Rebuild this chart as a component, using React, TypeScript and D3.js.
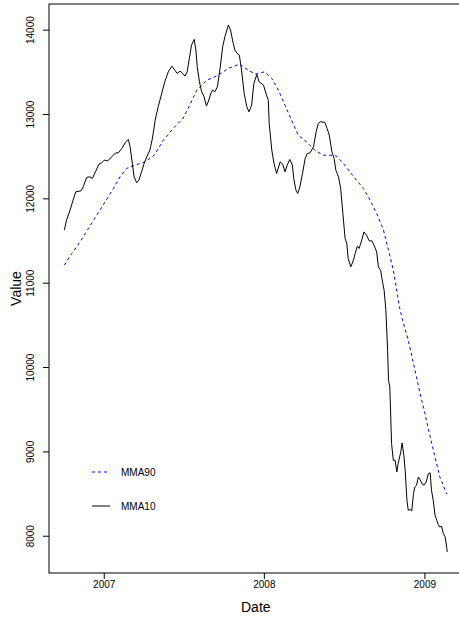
import React from "react";
import * as d3 from "d3";

// MMA10 (black solid) – date, value
const mma10Dates = [
  "2006-10-02","2006-10-07","2006-10-15","2006-10-22","2006-10-28","2006-11-09","2006-11-14","2006-11-22","2006-11-29","2006-12-05",
  "2006-12-12","2006-12-20","2006-12-26","2007-01-01","2007-01-09","2007-01-18","2007-01-27","2007-02-02","2007-02-10","2007-02-19",
  "2007-02-25","2007-03-01","2007-03-06","2007-03-10","2007-03-16","2007-03-21","2007-03-27","2007-04-02","2007-04-08","2007-04-15",
  "2007-04-20","2007-04-25","2007-04-27","2007-05-04","2007-05-12","2007-05-19","2007-05-27","2007-06-04","2007-06-11","2007-06-16",
  "2007-06-23","2007-06-29","2007-07-04","2007-07-09","2007-07-14","2007-07-19","2007-07-25","2007-07-29","2007-08-01","2007-08-06",
  "2007-08-11","2007-08-16","2007-08-22","2007-08-26","2007-09-01","2007-09-05","2007-09-10","2007-09-16","2007-09-22","2007-09-28",
  "2007-10-03","2007-10-11","2007-10-16","2007-10-22","2007-10-26","2007-10-31","2007-11-05","2007-11-10","2007-11-16","2007-11-22",
  "2007-11-27","2007-12-03","2007-12-08","2007-12-15","2007-12-20","2007-12-30","2008-01-06","2008-01-10","2008-01-12","2008-01-18",
  "2008-01-23","2008-01-29","2008-02-06","2008-02-12","2008-02-17","2008-02-22","2008-02-28","2008-03-05","2008-03-08","2008-03-13",
  "2008-03-17","2008-03-22","2008-03-28","2008-04-03","2008-04-08","2008-04-14","2008-04-22","2008-04-28","2008-05-03","2008-05-08",
  "2008-05-18","2008-05-23","2008-05-28","2008-06-03","2008-06-08","2008-06-12","2008-06-18","2008-06-23","2008-06-28","2008-07-03",
  "2008-07-07","2008-07-10","2008-07-16","2008-07-22","2008-07-26","2008-07-31","2008-08-04","2008-08-10","2008-08-15","2008-08-21",
  "2008-08-27","2008-09-02","2008-09-07","2008-09-13","2008-09-17","2008-09-22","2008-09-27","2008-09-30","2008-10-04","2008-10-08",
  "2008-10-10","2008-10-13","2008-10-17","2008-10-21","2008-10-25","2008-10-29","2008-11-01","2008-11-07","2008-11-10","2008-11-14",
  "2008-11-17","2008-11-21","2008-11-24","2008-11-28","2008-12-02","2008-12-06","2008-12-09","2008-12-13","2008-12-17","2008-12-21",
  "2008-12-25","2008-12-30","2009-01-04","2009-01-09","2009-01-13","2009-01-16","2009-01-20","2009-01-24","2009-01-28","2009-01-31",
  "2009-02-04","2009-02-08","2009-02-12","2009-02-16","2009-02-18","2009-02-21"
];
const mma10Values = [
  11628,11747,11866,11984,12083,12095,12142,12254,12261,12242,
  12320,12411,12427,12459,12450,12498,12545,12545,12597,12676,
  12704,12616,12420,12261,12190,12221,12320,12420,12498,12577,
  12696,12853,12933,13091,13250,13387,13506,13573,13526,13487,
  13514,13487,13455,13506,13665,13822,13890,13763,13565,13387,
  13269,13218,13099,13150,13250,13289,13269,13328,13546,13802,
  13921,14060,14000,13842,13763,13724,13704,13526,13250,13091,
  13031,13111,13368,13475,13387,13348,13229,13170,12894,12577,
  12420,12301,12438,12411,12320,12399,12467,12399,12241,12103,
  12064,12142,12301,12479,12538,12545,12616,12794,12894,12913,
  12906,12835,12755,12557,12479,12340,12261,12123,11827,11530,
  11471,11293,11193,11273,11352,11439,11412,11510,11608,11569,
  11502,11502,11451,11371,11193,11154,10997,10917,10680,10206,
  9850,9770,9099,8901,8901,8762,8862,9000,9106,8960,
  8783,8427,8308,8317,8300,8506,8585,8605,8703,8672,
  8625,8605,8644,8744,8751,8545,8427,8249,8190,8142,
  8110,8119,8032,7992,7932,7814
];

// MMA90 (blue dashed)
const mma90Dates = [
  "2006-10-02","2006-10-19","2006-11-07","2006-11-26","2006-12-15","2007-01-03","2007-01-22","2007-02-06","2007-02-21","2007-03-12",
  "2007-04-04","2007-04-25","2007-05-16","2007-06-07","2007-06-30","2007-07-15","2007-07-31","2007-08-23","2007-09-14",
  "2007-10-11","2007-11-05","2007-11-25","2007-12-11","2008-01-02","2008-01-18","2008-02-02","2008-02-17","2008-03-03","2008-03-18",
  "2008-04-06","2008-04-25","2008-05-14","2008-05-30","2008-06-14","2008-06-29","2008-07-14","2008-07-29","2008-08-14","2008-08-29",
  "2008-09-13","2008-09-28","2008-10-10","2008-10-21","2008-11-04","2008-11-11","2008-11-24","2008-12-06","2008-12-21","2009-01-01",
  "2009-01-13","2009-01-24","2009-02-04","2009-02-20"
];
const mma90Values = [
  11213,11352,11490,11649,11806,11964,12123,12261,12360,12399,
  12438,12518,12696,12834,12957,13111,13289,13407,13455,
  13546,13597,13526,13478,13506,13427,13289,13111,12933,12755,
  12676,12577,12518,12518,12506,12420,12320,12221,12123,11984,
  11827,11640,11391,11154,10719,10561,10324,10048,9692,9455,
  9178,8940,8703,8498
];

const yTicks = [8000, 9000, 10000, 11000, 12000, 13000, 14000];
const xTickDates = ["2007-01-01", "2008-01-01", "2009-01-01"];
const xTickLabels = ["2007", "2008", "2009"];
const legendLabels = ["MMA90", "MMA10"];

const W = 459;
const H = 618;
const FONT = "'Liberation Sans', Arial, Helvetica, sans-serif";

export default function App() {
  const parse = d3.utcParse("%Y-%m-%d");
  const s10 = mma10Dates.map((d, i) => ({ date: parse(d)!, value: mma10Values[i] }));
  const s90 = mma90Dates.map((d, i) => ({ date: parse(d)!, value: mma90Values[i] }));

  const all = [...s10, ...s90];
  const [xmin, xmax] = d3.extent(all, (d) => +d.date) as [number, number];
  const [ymin, ymax] = d3.extent(all, (d) => d.value) as [number, number];
  const xpad = (xmax - xmin) * 0.04;
  const ypad = (ymax - ymin) * 0.04;

  const left = 49, right = 462.6, top = 4, bottom = 573;

  const x = d3.scaleUtc().domain([new Date(xmin - xpad), new Date(xmax + xpad)]).range([left, right]);
  const y = d3.scaleLinear().domain([ymin - ypad, ymax + ypad]).range([bottom, top]);

  const line = d3
    .line<{ date: Date; value: number }>()
    .x((d) => x(d.date))
    .y((d) => y(d.value));

  return (
    <div style={{ position: "absolute", left: 0, top: 0 }}>
      <svg width={W} height={H} style={{ display: "block", background: "#fff" }} fontFamily={FONT}>
        <rect x={0} y={0} width={W} height={H} fill="#fff" />
        <defs>
          <clipPath id="plotclip">
            <rect x={left} y={top} width={right - left} height={bottom - top} />
          </clipPath>
        </defs>
        <g clipPath="url(#plotclip)">
          <path d={line(s90) || ""} fill="none" stroke="#0000ff" strokeWidth={1} strokeDasharray="3,3" />
          <path d={line(s10) || ""} fill="none" stroke="#000" strokeWidth={1} />
        </g>
        <rect x={left} y={top} width={right - left} height={bottom - top} fill="none" stroke="#000" strokeWidth={1} />

        {/* y axis */}
        {yTicks.map((t) => (
          <g key={t}>
            <line x1={left - 6} x2={left} y1={y(t)} y2={y(t)} stroke="#000" />
            <text
              transform={`translate(${left - 15},${y(t)}) rotate(-90)`}
              textAnchor="middle"
              fontSize={10}
              fill="#000"
            >
              {t}
            </text>
          </g>
        ))}

        {/* x axis */}
        {xTickDates.map((d, i) => {
          const xp = x(parse(d)!);
          return (
            <g key={d}>
              <line x1={xp} x2={xp} y1={bottom} y2={bottom + 6} stroke="#000" />
              <text x={xp} y={bottom + 15} textAnchor="middle" fontSize={10} fill="#000">
                {xTickLabels[i]}
              </text>
            </g>
          );
        })}

        <text x={(left + right) / 2} y={612} textAnchor="middle" fontSize={14} fill="#000">
          Date
        </text>
        <text transform={`translate(21,${(top + bottom) / 2}) rotate(-90)`} textAnchor="middle" fontSize={14} fill="#000">
          Value
        </text>

        {/* legend */}
        <line x1={92} x2={110} y1={472} y2={472} stroke="#0000ff" strokeDasharray="3,3" />
        <text x={121} y={475.5} fontSize={10} fill="#000">{legendLabels[0]}</text>
        <line x1={92} x2={110} y1={506} y2={506} stroke="#000" />
        <text x={121} y={509.5} fontSize={10} fill="#000">{legendLabels[1]}</text>
      </svg>
    </div>
  );
}
